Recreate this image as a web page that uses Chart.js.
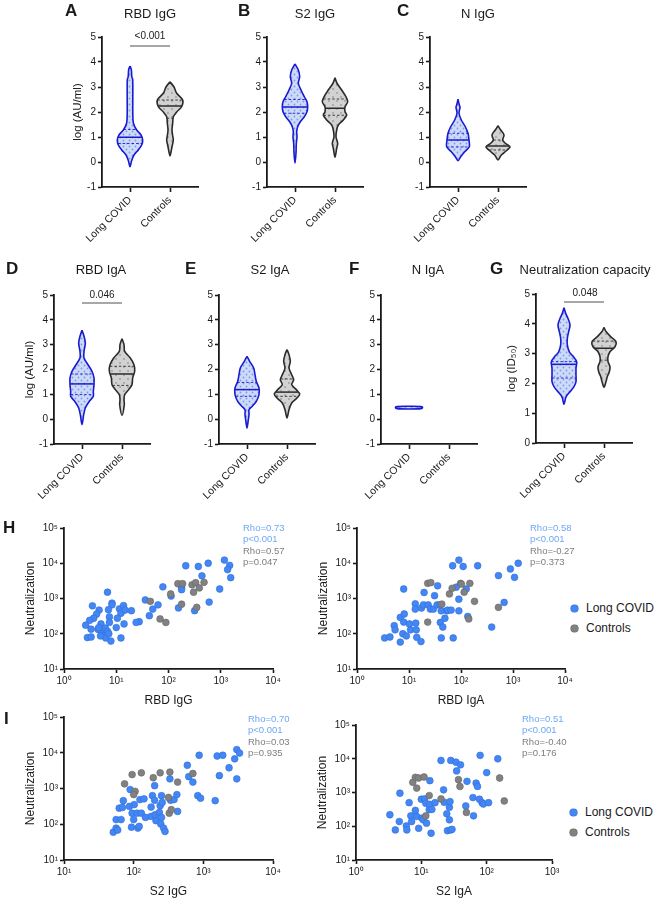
<!DOCTYPE html>
<html>
<head>
<meta charset="utf-8">
<script src="https://cdn.jsdelivr.net/npm/chart.js@4.4.1/dist/chart.umd.min.js"></script>
<style>
  body { margin: 0; background: #fff; font-family: "Liberation Sans", Arial, sans-serif; }
  #fig { position: relative; width: 668px; height: 900px; overflow: hidden; background: #fff; }
  #fig canvas { position: absolute; }
  .t { position: absolute; white-space: nowrap; color: #1a1a1a; line-height: 1; }
  .dot { position: absolute; width: 7px; height: 7px; border-radius: 50%; }
</style>
</head>
<body>
<div id="fig"></div>
<script>
// ---- data ----
const groups = ['Long COVID', 'Controls'];

// violin outlines: [log value, half width in category units], from top to bottom
// quartile arrays: [Q1, median, Q3]
const rbdIgGLong = [[3.84,0],[3.70,0.033],[3.41,0.045],[3.3,0.067],[2.6,0.07],[1.95,0.07],[1.55,0.085],[1.28,0.167],[1.08,0.275],[0.88,0.317],[0.68,0.292],[0.48,0.208],[0.28,0.10],[0.05,0.04],[-0.19,0]];
const rbdIgGLongQ = [0.74, 0.99, 1.3];
const rbdIgGCtrl = [[3.21,0],[3.0,0.1],[2.75,0.167],[2.48,0.317],[2.21,0.29],[2.0,0.167],[1.81,0.083],[1.55,0.067],[1.28,0.05],[1.05,0.067],[0.88,0.083],[0.61,0.05],[0.40,0.025],[0.24,0]];
const rbdIgGCtrlQ = [1.75, 2.24, 2.48];

const s2IgGLong = [[3.92,0],[3.68,0.083],[3.41,0.117],[3.15,0.083],[2.88,0.15],[2.61,0.233],[2.41,0.3],[2.21,0.317],[2.01,0.3],[1.81,0.233],[1.61,0.133],[1.41,0.067],[1.21,0.042],[1.01,0.05],[0.75,0.033],[0.35,0.025],[-0.05,0]];
const s2IgGLongQ = [1.95, 2.2, 2.5];
const s2IgGCtrl = [[3.37,0],[3.15,0.05],[2.88,0.167],[2.61,0.275],[2.41,0.317],[2.21,0.25],[2.01,0.25],[1.88,0.292],[1.68,0.208],[1.48,0.083],[1.28,0.042],[1.01,0.025],[0.75,0.067],[0.55,0.042],[0.19,0]];
const s2IgGCtrlQ = [1.87, 2.15, 2.52];

const nIgGLong = [[2.51,0],[2.28,0.033],[2.19,0.05],[1.95,0.025],[1.68,0.083],[1.41,0.183],[1.15,0.25],[0.88,0.275],[0.61,0.283],[0.41,0.167],[0.21,0.067],[0.05,0]];
const nIgGLongQ = [0.6, 0.88, 1.15];
const nIgGCtrl = [[1.45,0],[1.28,0.067],[1.08,0.15],[0.88,0.117],[0.75,0.183],[0.61,0.3],[0.45,0.208],[0.28,0.083],[0.08,0]];
const nIgGCtrlQ = [0.48, 0.64, 0.88];

const rbdIgALong = [[3.58,0],[3.34,0.05],[3.07,0.083],[2.73,0.05],[2.46,0.05],[2.19,0.15],[1.93,0.25],[1.66,0.3],[1.39,0.3],[1.12,0.283],[0.92,0.283],[0.72,0.183],[0.45,0.083],[0.18,0.042],[-0.22,0]];
const rbdIgALongQ = [0.99, 1.42, 1.82];
const rbdIgACtrl = [[3.24,0],[3.0,0.05],[2.73,0.067],[2.46,0.208],[2.19,0.3],[1.93,0.317],[1.66,0.267],[1.39,0.25],[1.19,0.167],[0.99,0.067],[0.79,0.05],[0.58,0.058],[0.15,0]];
const rbdIgACtrlQ = [1.36, 1.82, 2.13];

const s2IgALong = [[2.53,0],[2.33,0.067],[2.06,0.167],[1.79,0.2],[1.52,0.233],[1.26,0.3],[0.99,0.3],[0.72,0.233],[0.52,0.133],[0.38,0.05],[0.18,0.05],[-0.02,0.033],[-0.36,0]];
const s2IgALongQ = [0.92, 1.19, 1.48];
const s2IgACtrl = [[2.8,0],[2.6,0.05],[2.33,0.083],[2.06,0.05],[1.79,0.117],[1.59,0.167],[1.39,0.117],[1.19,0.233],[1.01,0.317],[0.85,0.25],[0.65,0.117],[0.38,0.05],[0.05,0]];
const s2IgACtrlQ = [0.92, 1.09, 1.62];

const nIgALong = [[0.52,0],[0.505,0.3],[0.465,0.34],[0.425,0.3],[0.41,0]];
const nIgALongQ = [];

const neutLong = [[4.54,0],[4.35,0.042],[4.18,0.1],[3.96,0.15],[3.74,0.117],[3.51,0.083],[3.29,0.083],[3.06,0.133],[2.9,0.233],[2.73,0.317],[2.51,0.3],[2.28,0.3],[2.06,0.3],[1.89,0.25],[1.72,0.15],[1.55,0.05],[1.3,0]];
const neutLongQ = [2.18, 2.64, 2.73];
const neutCtrl = [[3.88,0],[3.74,0.05],[3.57,0.167],[3.4,0.3],[3.23,0.275],[3.06,0.15],[2.9,0.1],[2.73,0.1],[2.56,0.15],[2.39,0.133],[2.23,0.083],[2.06,0.05],[1.87,0]];
const neutCtrlQ = [2.78, 3.18, 3.42];

const violinTicks = [-1, 0, 1, 2, 3, 4, 5];
const neutTicks = [0, 1, 2, 3, 4, 5];
const decades = [1, 10, 100, 1000, 10000, 100000];
const supers = ['\u2070', '\u00b9', '\u00b2', '\u00b3', '\u2074', '\u2075'];

// scatter: [antibody level, neutralization ID50]
const rbdIgGLongPts = [[214,8500],[372,8100],[575,10000],[1175,12300],[1480,8700],[1350,6600],[1550,3900],[437,4400],[78,2140],[178,2040],[178,1780],[112,1175],[955,1860],[600,790],[155,540],[316,450],[36,910],[63,660],[50,500],[43,325],[27.5,220],[24,210],[6.8,1510],[3.5,620],[8.3,740],[8.3,660],[7.1,480],[11.5,510],[13.8,630],[12.3,380],[14.8,470],[19.5,450],[4.7,470],[4.2,360],[3.7,275],[3.1,240],[7.4,300],[7.4,210],[10.5,275],[14.1,190],[2.6,175],[3.3,135],[5.1,190],[5.2,120],[6.2,145],[6.8,117],[10,150],[5.5,89],[6.3,76],[2.8,78],[3.3,81],[7.2,100],[7.9,62],[12.3,76],[5,87],[4.5,132],[4.6,148]];
const rbdIgGCtrlPts = [[45,830],[110,1350],[151,2630],[186,2630],[282,2450],[331,2820],[479,2880],[389,2000],[302,1510],[178,690],[347,560],[69,263],[89,209]];

const rbdIgALongPts = [[3.4,76],[4.3,81],[5.2,170],[5.4,129],[6.8,58],[6.8,290],[8.1,363],[7.9,1860],[7.9,214],[7.6,100],[8.9,87],[10.2,190],[10.7,129],[13.2,708],[13.2,500],[13.5,200],[13.8,129],[14.1,79],[17,60],[17.4,537],[19.5,1480],[19,660],[23.4,660],[25.7,500],[29.5,500],[31,1200],[35.5,2290],[34.7,660],[40,209],[41.7,447],[41.7,76],[44.7,155],[49,275],[53.7,447],[55,468],[64.6,468],[69,8500],[70.8,76],[81,2090],[91,955],[91,447],[91,12300],[110,8100],[126,1860],[135,309],[209,8500],[389,155],[525,4470],[676,776],[891,6900],[1070,3980],[1260,10000],[40,660]];
const rbdIgACtrlPts = [[22.9,2690],[26.3,2820],[22.9,214],[42.7,692],[60,1350],[67.6,1950],[98,2690],[102,2570],[115,1510],[148,2690],[182,832],[141,263],[525,562]];

const s2IgGLongPts = [[51,60],[56,78],[59,69],[56,135],[66,135],[62,282],[69,295],[71,457],[87,316],[89,933],[93,83],[100,135],[95,204],[102,355],[112,204],[115,78],[120,87],[123,490],[129,204],[141,513],[148,155],[178,302],[178,166],[186,631],[200,1200],[200,468],[204,186],[209,126],[234,214],[240,331],[245,102],[251,631],[251,155],[257,407],[269,78],[282,63],[331,1860],[339,468],[380,490],[417,676],[427,229],[589,4470],[617,2140],[708,1510],[832,631],[871,8500],[912,537],[1480,457],[1580,8100],[1700,2290],[1900,8500],[2340,3800],[2820,6760],[3020,1860],[3020,12300],[3310,9800]];
const s2IgGCtrlPts = [[74,1350],[95,2450],[105,832],[100,676],[129,2750],[191,2000],[240,2750],[331,2880],[427,1510],[708,2630],[316,562],[324,204],[347,257]];

const s2IgALongPts = [[3.3,219],[4.0,78],[4.6,138],[4.7,955],[5.9,102],[6.0,78],[6.5,500],[6.9,204],[7.1,138],[8.1,295],[8.5,195],[9.1,87],[10,631],[10.2,174],[10.7,155],[11.2,646],[11.7,479],[12,123],[13.2,309],[13.5,2240],[13.5,447],[14.5,316],[14.1,62],[16.2,500],[20,8900],[21.9,1200],[22.4,513],[24.5,234],[25.1,74],[26.9,363],[26.9,155],[27.5,537],[28.2,78],[28.2,8900],[29.5,81],[33.9,7940],[34.7,4370],[39.8,6600],[47.9,398],[50,2140],[61.7,708],[63,204],[69,1900],[72.4,1510],[77.6,631],[79.4,12600],[85,500],[89,457],[100,3890],[107,500],[148,10000]];
const s2IgACtrlPts = [[7.4,2000],[8.1,2820],[9.1,2690],[11,2880],[8.5,1350],[13.2,813],[11.7,204],[20,646],[37,2400],[39,1510],[49,257],[158,2690],[186,562]];

// ---- styles ----
const blueLine = '#1a1ad2';
const greyLine = '#2b2b2b';
const ptBlue = '#4386f4';
const ptGrey = '#818181';
const ink = '#1a1a1a';
const fontFam = '"Liberation Sans", Arial, sans-serif';

Chart.defaults.font.family = fontFam;
Chart.defaults.color = ink;

// dotted fill, like the individual values drawn inside each violin
const dotPattern = (bg, dot, step, spots) => {
    const c = document.createElement('canvas');
    c.width = step; c.height = step;
    const g = c.getContext('2d');
    g.fillStyle = bg;
    g.fillRect(0, 0, step, step);
    g.fillStyle = dot;
    spots.forEach(([x, y]) => { g.beginPath(); g.arc(x, y, 0.9, 0, Math.PI * 2); g.fill(); });
    return g.createPattern(c, 'repeat');
};
const blueFill = dotPattern('#cddaf8', '#7f9cec', 6, [[1.5, 1.5], [4.5, 4.5]]);
const greyFill = dotPattern('#d2d2d2', '#9c9c9c', 8, [[2, 2], [6, 6]]);

const fig = document.getElementById('fig');

const makeCanvas = (left, top, w, h) => {
    const c = document.createElement('canvas');
    c.width = w; c.height = h;
    c.style.left = left + 'px'; c.style.top = top + 'px';
    c.style.width = w + 'px'; c.style.height = h + 'px';
    fig.appendChild(c);
    return c;
};

const text = (str, x, y, opts = {}) => {
    const d = document.createElement('div');
    d.className = 't';
    d.textContent = str;
    d.style.left = x + 'px';
    d.style.top = y + 'px';
    d.style.fontSize = (opts.size || 12) + 'px';
    if (opts.bold) d.style.fontWeight = 'bold';
    if (opts.color) d.style.color = opts.color;
    d.style.transform = opts.center ? 'translate(-50%,-50%)' : 'translate(0,-50%)';
    fig.appendChild(d);
};

// half width of an outline at a given value (for median / quartile lines)
const halfWidthAt = (outline, v) => {
    for (let i = 0; i < outline.length - 1; i++) {
        const [y0, w0] = outline[i];
        const [y1, w1] = outline[i + 1];
        if (v <= y0 && v >= y1) return w0 + (w1 - w0) * (v - y0) / (y1 - y0);
    }
    return 0;
};

const violinSets = (outline, quart, pos, line, fill) => {
    const left = outline.map(([y, w]) => ({ x: pos - w, y }));
    const right = outline.slice(1, -1).reverse().map(([y, w]) => ({ x: pos + w, y }));
    const shape = left.concat(right, [left[0]]);
    const sets = [{
        data: shape, showLine: true, fill: 'shape', backgroundColor: fill,
        borderColor: line, borderWidth: 1.6, tension: 0.3, pointRadius: 0, order: 3
    }];
    quart.forEach((q, i) => {
        const w = halfWidthAt(outline, q);
        sets.push({
            data: [{ x: pos - w, y: q }, { x: pos + w, y: q }], showLine: true,
            borderColor: line, borderWidth: i === 1 ? 1.5 : 0.9, borderDash: i === 1 ? [] : [2.5, 2],
            pointRadius: 0, order: 1
        });
    });
    return sets;
};

const violinChart = (p) => {
    const padTop = 30, chartH = p.bottom - p.top;
    const cv = makeCanvas(p.axisX - 40, p.top - padTop, 148, padTop + chartH + 60);
    let datasets = [];
    if (p.long) datasets = datasets.concat(violinSets(p.long, p.longQ, 1, blueLine, blueFill));
    if (p.ctrl) datasets = datasets.concat(violinSets(p.ctrl, p.ctrlQ, 2, greyLine, greyFill));
    if (p.sigY) {
        datasets.push({
            data: [{ x: 1, y: p.sigY }, { x: 2, y: p.sigY }], showLine: true,
            borderColor: '#8a8a8a', borderWidth: 1.6, pointRadius: 0, order: 0
        });
    }
    new Chart(cv, {
        type: 'scatter',
        data: { datasets },
        options: {
            responsive: false, animation: false, events: [],
            layout: { padding: { left: 8, top: padTop, right: 12, bottom: 0 } },
            plugins: { legend: { display: false }, tooltip: { enabled: false } },
            scales: {
                x: {
                    type: 'linear', min: 0.3, max: 2.7,
                    afterFit: (s) => { s.height = 60; },
                    afterBuildTicks: (s) => { s.ticks = [{ value: 1 }, { value: 2 }]; },
                    border: { color: ink, width: 1.8 },
                    grid: { drawOnChartArea: false, tickLength: 5, tickWidth: 1.6, color: ink },
                    ticks: {
                        autoSkip: false, minRotation: 45, maxRotation: 45, padding: 2,
                        font: { size: 10.5 }, color: ink,
                        callback: (v) => groups[v - 1]
                    }
                },
                y: {
                    min: p.ticks[0], max: p.ticks[p.ticks.length - 1],
                    afterFit: (s) => { s.width = 32; },
                    afterBuildTicks: (s) => { s.ticks = p.ticks.map((v) => ({ value: v })); },
                    border: { color: ink, width: 1.8 },
                    grid: { drawOnChartArea: false, tickLength: 4, tickWidth: 1.6, color: ink },
                    ticks: { font: { size: 10 }, color: ink, padding: 2 },
                    title: {
                        display: !!p.yTitle, text: p.yTitle || '', color: ink,
                        font: { size: 11.5 }, padding: { top: 1, bottom: 0 }
                    }
                }
            }
        }
    });
};

const scatterChart = (p) => {
    const padL = 10, padT = 18, padR = 16, padB = 2;
    const w = padL + 44 + (p.right - p.axisX) + padR;
    const h = padT + (p.bottom - p.top) + 40 + padB;
    const cv = makeCanvas(p.axisX - 44 - padL, p.top - padT, w, h);
    const logAxis = (min, max, title, isX) => ({
        type: 'logarithmic', min, max,
        afterFit: (s) => { if (isX) s.height = 40; else s.width = 44; },
        afterBuildTicks: (s) => { s.ticks = decades.filter((v) => v >= min && v <= max).map((v) => ({ value: v })); },
        border: { color: ink, width: 1.8 },
        grid: { drawOnChartArea: false, tickLength: 4, tickWidth: 1.6, color: ink },
        ticks: {
            font: { size: 10 }, color: ink, padding: 2,
            callback: (v) => '10' + supers[Math.round(Math.log10(v))]
        },
        title: {
            display: true, text: title, color: ink, font: { size: 12 },
            padding: isX ? { top: 0, bottom: 1 } : { top: 3, bottom: 0 }
        }
    });
    new Chart(cv, {
        type: 'scatter',
        data: {
            datasets: [
                {
                    label: 'Long COVID', data: p.long.map(([x, y]) => ({ x, y })),
                    backgroundColor: ptBlue, borderColor: '#2f6fdc', borderWidth: 0.6,
                    pointRadius: 3.4, order: 2
                },
                {
                    label: 'Controls', data: p.ctrl.map(([x, y]) => ({ x, y })),
                    backgroundColor: ptGrey, borderColor: '#666666', borderWidth: 0.6,
                    pointRadius: 3.4, order: 1
                }
            ]
        },
        options: {
            responsive: false, animation: false, events: [],
            layout: { padding: { left: padL, top: padT, right: padR, bottom: padB } },
            plugins: { legend: { display: false }, tooltip: { enabled: false } },
            scales: {
                x: logAxis(p.xMin, p.xMax, p.xTitle, true),
                y: logAxis(10, 100000, 'Neutralization', false)
            }
        }
    });
};

// ---- violin panels ----
violinChart({ axisX: 102, top: 37, bottom: 187, ticks: violinTicks, yTitle: 'log (AU/ml)',
    long: rbdIgGLong, longQ: rbdIgGLongQ, ctrl: rbdIgGCtrl, ctrlQ: rbdIgGCtrlQ, sigY: 4.64 });
violinChart({ axisX: 267, top: 37, bottom: 187, ticks: violinTicks,
    long: s2IgGLong, longQ: s2IgGLongQ, ctrl: s2IgGCtrl, ctrlQ: s2IgGCtrlQ });
violinChart({ axisX: 430, top: 37, bottom: 187, ticks: violinTicks,
    long: nIgGLong, longQ: nIgGLongQ, ctrl: nIgGCtrl, ctrlQ: nIgGCtrlQ });
violinChart({ axisX: 54, top: 295, bottom: 444, ticks: violinTicks, yTitle: 'log (AU/ml)',
    long: rbdIgALong, longQ: rbdIgALongQ, ctrl: rbdIgACtrl, ctrlQ: rbdIgACtrlQ, sigY: 4.68 });
violinChart({ axisX: 219, top: 295, bottom: 444, ticks: violinTicks,
    long: s2IgALong, longQ: s2IgALongQ, ctrl: s2IgACtrl, ctrlQ: s2IgACtrlQ });
violinChart({ axisX: 381, top: 295, bottom: 444, ticks: violinTicks,
    long: nIgALong, longQ: nIgALongQ });
violinChart({ axisX: 536, top: 294, bottom: 443, ticks: neutTicks, yTitle: 'log (ID\u2085\u2080)',
    long: neutLong, longQ: neutLongQ, ctrl: neutCtrl, ctrlQ: neutCtrlQ, sigY: 4.73 });

// ---- scatter panels ----
scatterChart({ axisX: 64, right: 273, top: 528, bottom: 669, xMin: 1, xMax: 10000, xTitle: 'RBD IgG',
    long: rbdIgGLongPts, ctrl: rbdIgGCtrlPts });
scatterChart({ axisX: 357, right: 565, top: 528, bottom: 669, xMin: 1, xMax: 10000, xTitle: 'RBD IgA',
    long: rbdIgALongPts, ctrl: rbdIgACtrlPts });
scatterChart({ axisX: 64, right: 273, top: 717, bottom: 860, xMin: 10, xMax: 10000, xTitle: 'S2 IgG',
    long: s2IgGLongPts, ctrl: s2IgGCtrlPts });
scatterChart({ axisX: 356, right: 552, top: 725, bottom: 860, xMin: 1, xMax: 1000, xTitle: 'S2 IgA',
    long: s2IgALongPts, ctrl: s2IgACtrlPts });

// ---- text: panel letters, titles, p-values ----
[['A', 65, 10], ['B', 238, 10], ['C', 397, 10], ['D', 6, 268], ['E', 185, 268],
 ['F', 349, 268], ['G', 490, 268], ['H', 3, 527], ['I', 4, 718]].forEach(([s, x, y]) => text(s, x, y, { size: 17, bold: true }));

[['RBD IgG', 150, 13], ['S2 IgG', 315, 13], ['N IgG', 478, 13], ['RBD IgA', 101, 269],
 ['S2 IgA', 270, 269], ['N IgA', 428, 269], ['Neutralization capacity', 585, 269]].forEach(([s, x, y]) => text(s, x, y, { size: 13, center: true }));

[['<0.001', 150, 36], ['0.046', 102, 295], ['0.048', 585, 293]].forEach(([s, x, y]) => text(s, x, y, { size: 10, center: true }));

const statBlock = (x, y, lines) => {
    lines.forEach(([s, c], i) => text(s, x, y + i * 11.3, { size: 9.5, color: c }));
};
const rhoBlue = '#6ea8f6';
const rhoGrey = '#7d7d7d';
statBlock(243, 528, [['Rho=0.73', rhoBlue], ['p<0.001', rhoBlue], ['Rho=0.57', rhoGrey], ['p=0.047', rhoGrey]]);
statBlock(530, 528, [['Rho=0.58', rhoBlue], ['p<0.001', rhoBlue], ['Rho=-0.27', rhoGrey], ['p=0.373', rhoGrey]]);
statBlock(248, 719, [['Rho=0.70', rhoBlue], ['p<0.001', rhoBlue], ['Rho=0.03', rhoGrey], ['p=0.935', rhoGrey]]);
statBlock(522, 719, [['Rho=0.51', rhoBlue], ['p<0.001', rhoBlue], ['Rho=-0.40', rhoGrey], ['p=0.176', rhoGrey]]);

// ---- legends ----
const legend = (x, y) => {
    [['Long COVID', ptBlue, '#2f6fdc'], ['Controls', ptGrey, '#666']].forEach(([s, c, b], i) => {
        const d = document.createElement('div');
        d.className = 'dot';
        d.style.left = (x - 3.5) + 'px';
        d.style.top = (y + i * 20 - 3.5) + 'px';
        d.style.background = c;
        d.style.boxShadow = '0 0 0 0.6px ' + b;
        fig.appendChild(d);
        text(s, x + 12, y + i * 20, { size: 12 });
    });
};
legend(574, 608);
legend(573, 812);
</script>
</body>
</html>
